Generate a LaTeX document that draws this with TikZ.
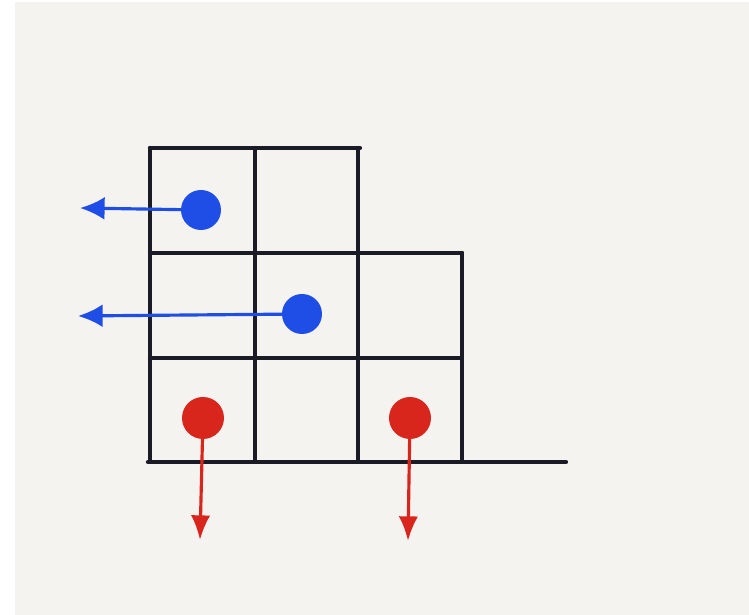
\documentclass[tikz,border=0pt]{standalone}
\usepackage{tikz}
\usetikzlibrary{arrows.meta}

\definecolor{paper}{HTML}{F5F3F0}
\definecolor{ink}{HTML}{1B1B26}
\definecolor{penblue}{HTML}{1E4EE6}
\definecolor{penred}{HTML}{D9261C}

\tikzset{
  gridline/.style={ink,line width=1.2pt,line cap=round},
  bluedot/.style={circle,fill=penblue,inner sep=0pt,minimum size=0.40cm},
  reddot/.style={circle,fill=penred,inner sep=0pt,minimum size=0.42cm},
  bluearrow/.style={penblue,line width=0.9pt,-{Latex[length=7pt,width=6.5pt]}},
  redarrow/.style={penred,line width=0.9pt,-{Latex[length=7pt,width=5.5pt]}}
}

\begin{document}
\begin{tikzpicture}
  % paper, 7.49 x 6.15
  \fill[white] (0,0) rectangle (7.49,6.15);
  \fill[paper] (0.15,0) rectangle (7.49,6.13);
  \useasboundingbox (0,0) rectangle (7.49,6.15);

  % Grid: top row 2 cells, two lower rows 3 cells
  \draw[gridline] (1.50,4.67) -- (3.60,4.67);
  \draw[gridline] (1.50,3.62) -- (4.62,3.62);
  \draw[gridline] (1.50,2.57) -- (4.62,2.57);
  \foreach \xa in {1.50,2.55,3.58} {
    \draw[gridline] (\xa,4.67) -- (\xa,1.53);
  }
  \draw[gridline] (4.62,3.62) -- (4.62,1.53);
  % Base line
  \draw[gridline] (1.48,1.53) -- (5.66,1.53);

  % Blue dots, pushed left
  \node[bluedot] (b1) at (2.01,4.05) {};
  \node[bluedot] (b2) at (3.02,3.01) {};
  \coordinate (e1) at (0.80,4.07);
  \coordinate (e2) at (0.78,2.99);
  \draw[bluearrow] (b1.center) -- (e1);
  \draw[bluearrow] (b2.center) -- (e2);

  % Red dots, pulled down
  \node[reddot] (r1) at (2.03,1.97) {};
  \node[reddot] (r2) at (4.10,1.97) {};
  \coordinate (f1) at (2.00,0.75);
  \coordinate (f2) at (4.08,0.74);
  \draw[redarrow] (r1.center) -- (f1);
  \draw[redarrow] (r2.center) -- (f2);
\end{tikzpicture}
\end{document}
